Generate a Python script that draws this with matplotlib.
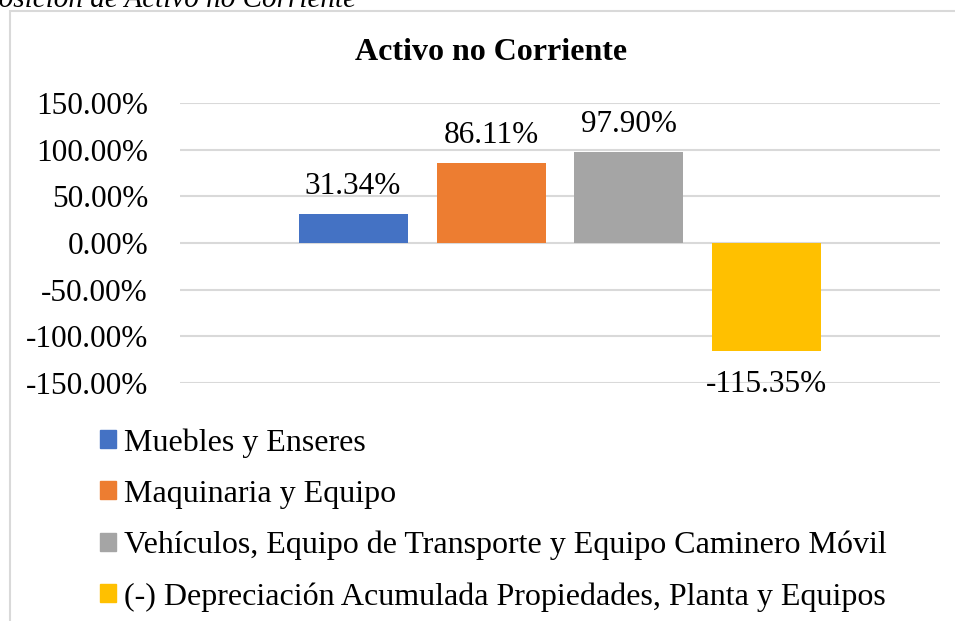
import matplotlib
matplotlib.use('Agg')
import matplotlib.pyplot as plt
from matplotlib.patches import Rectangle, Patch
from matplotlib.ticker import FuncFormatter

plt.rcParams['font.family'] = ['Liberation Serif', 'DejaVu Serif']

# datos
series = ['Muebles y Enseres',
          'Maquinaria y Equipo',
          'Vehículos, Equipo de Transporte y Equipo Caminero Móvil',
          '(-) Depreciación Acumulada Propiedades, Planta y Equipos']
valores = [31.34, 86.11, 97.90, -115.35]
colores = ['#4472C4', '#ED7D31', '#A5A5A5', '#FFC000']
titulo = 'Activo no Corriente'
leyenda_fig = 'Composición de Activo no Corriente'

W, H = 955, 621
fig = plt.figure(figsize=(W / 100, H / 100), dpi=100)

# marco del gráfico (recortado en la captura)
fig.patches.append(Rectangle((10 / W, -0.1), 1.2, 1 - 11 / H + 0.1,
                             transform=fig.transFigure, fill=False,
                             edgecolor='#d9d9d9', linewidth=1.5))

# texto de la figura, cortado arriba
fig.text(356 / W, 1 - 7 / H, leyenda_fig, ha='right', va='baseline',
         fontsize=21, style='italic')

ax = fig.add_axes([180 / W, 1 - 383 / H, 760 / W, 280 / H])
x = list(range(len(valores)))
barras = ax.bar(x, valores, width=0.79, color=colores)
ax.set_xlim(-1.254, 4.254)
ax.set_ylim(-150, 150)
ax.set_yticks([-150, -100, -50, 0, 50, 100, 150])
ax.yaxis.set_major_formatter(FuncFormatter(lambda v, p: '%.2f%%' % v))
ax.tick_params(axis='y', length=0, pad=23, labelsize=22.5)
ax.set_xticks([])
ax.grid(axis='y', color='#d9d9d9', linewidth=1.5)
ax.set_axisbelow(True)
for s in ax.spines.values():
    s.set_visible(False)

for b, v in zip(barras, valores):
    cx = b.get_x() + b.get_width() / 2
    if v >= 0:
        ax.annotate('%.2f%%' % v, (cx, v), xytext=(0, 14), textcoords='offset points',
                    ha='center', va='baseline', fontsize=22.5)
    else:
        ax.annotate('%.2f%%' % v, (cx, v), xytext=(0, -14), textcoords='offset points',
                    ha='center', va='top', fontsize=22.5)

fig.text(491 / W, 1 - 60 / H, titulo, ha='center', va='baseline',
         fontsize=23, fontweight='bold')

handles = [Patch(color=c) for c in colores]
fig.legend(handles, series, loc='upper left', bbox_to_anchor=(100 / W, 1 - 428 / H),
           frameon=False, fontsize=23, handlelength=0.5, handleheight=0.5,
           handletextpad=0.25, labelspacing=0.69, borderpad=0, borderaxespad=0)

fig.savefig('out.png', dpi=100)
